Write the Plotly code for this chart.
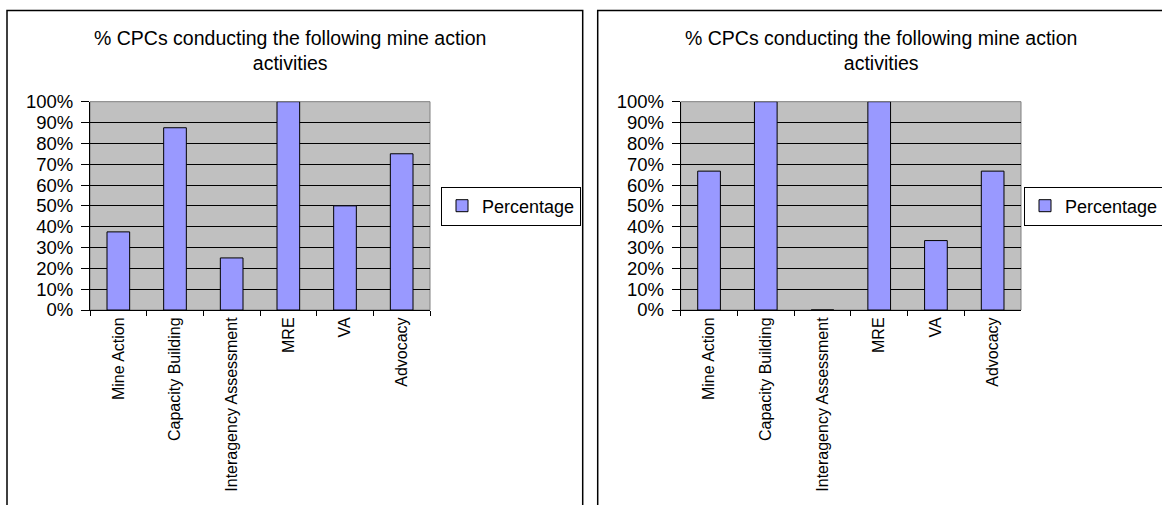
import plotly.graph_objects as go

categories = ["Mine Action", "Capacity Building", "Interagency Assessment", "MRE", "VA", "Advocacy"]
left_values = [0.375, 0.875, 0.25, 1.0, 0.5, 0.75]
right_values = [0.6667, 1.0, 0.0, 1.0, 0.3333, 0.6667]
series_name = "Percentage"
chart_title = "% CPCs conducting the following mine action<br>activities"
y_ticks = [0, 0.1, 0.2, 0.3, 0.4, 0.5, 0.6, 0.7, 0.8, 0.9, 1.0]

W, H = 1162, 505
FONT = "Liberation Sans, Arial, sans-serif"
BAR_COLOR = "#9999FF"

def px(x):
    return x / W

def py(y):
    return (H - y) / H

fig = go.Figure()
fig.add_trace(go.Bar(x=categories, y=left_values, name=series_name, xaxis="x", yaxis="y",
                     marker=dict(color=BAR_COLOR, line=dict(color="black", width=1)),
                     legend="legend", hoverinfo="x+y"))
fig.add_trace(go.Bar(x=categories, y=right_values, name=series_name, xaxis="x2", yaxis="y2",
                     marker=dict(color=BAR_COLOR, line=dict(color="black", width=1)),
                     legend="legend2", hoverinfo="x+y"))

offsets = [0, 590.7]
ydom = [py(310), py(101.7)]

xaxis_common = dict(type="category", tickson="boundaries", ticks="outside", ticklen=5,
                    tickcolor="black", tickangle=-90, showline=True, linecolor="black",
                    linewidth=1, showgrid=False, zeroline=False, automargin=False,
                    tickfont=dict(family=FONT, size=16, color="black"), fixedrange=True)
yaxis_common = dict(range=[0, 1], tickvals=y_ticks, tickformat=".0%", ticks="outside",
                    ticklen=8, tickcolor="black", showline=True, linecolor="black",
                    linewidth=1, showgrid=True, gridcolor="black", gridwidth=1,
                    zeroline=False, ticklabelstandoff=4, automargin=False,
                    tickfont=dict(family=FONT, size=18.5, color="black"), fixedrange=True)

fig.update_layout(
    xaxis=dict(domain=[px(90), px(430)], anchor="y", **xaxis_common),
    yaxis=dict(domain=ydom, anchor="x", **yaxis_common),
    xaxis2=dict(domain=[px(680.7), px(1021)], anchor="y2", **xaxis_common),
    yaxis2=dict(domain=ydom, anchor="x2", **yaxis_common),
)

shapes = []
annotations = []
for i, off in enumerate(offsets):
    # chart-area border
    shapes.append(dict(type="rect", xref="paper", yref="paper",
                       x0=px(7 + off), x1=px(582.7 + off), y0=-0.1, y1=py(10.5),
                       line=dict(color="black", width=1.5), fillcolor="rgba(0,0,0,0)",
                       layer="below"))
    # plot-area border (gray)
    xr = "x domain" if i == 0 else "x2 domain"
    yr = "y domain" if i == 0 else "y2 domain"
    shapes.append(dict(type="rect", xref=xr, yref=yr, x0=0, x1=1, y0=0, y1=1,
                       line=dict(color="#808080", width=1), fillcolor="#C0C0C0",
                       layer="below"))
    annotations.append(dict(text=chart_title, xref="paper", yref="paper",
                            x=px(290 + off), y=py(50.5), xanchor="center", yanchor="middle",
                            showarrow=False, align="center",
                            font=dict(family=FONT, size=19.5, color="black")))

legend_common = dict(bgcolor="white", bordercolor="black", borderwidth=1,
                     font=dict(family=FONT, size=18, color="black"),
                     itemwidth=30, yanchor="middle", xanchor="left",
                     xref="paper", yref="paper", y=py(206),
                     itemclick=False, itemdoubleclick=False)

fig.update_layout(
    width=W, height=H,
    margin=dict(l=0, r=0, t=0, b=0, pad=0, autoexpand=False),
    paper_bgcolor="white",
    plot_bgcolor="#C0C0C0",
    bargap=0.6,
    showlegend=True,
    legend=dict(x=px(441), **legend_common),
    legend2=dict(x=px(1024), **legend_common),
    shapes=shapes,
    annotations=annotations,
    font=dict(family=FONT, color="black"),
)

fig.write_html(
    "out.html",
    config={"displayModeBar": False},
    post_script=(
        "document.body.style.margin='0';"
        "document.body.style.padding='0';"
        "document.body.style.overflow='hidden';"
        "document.documentElement.style.overflow='hidden';"
    ),
)
